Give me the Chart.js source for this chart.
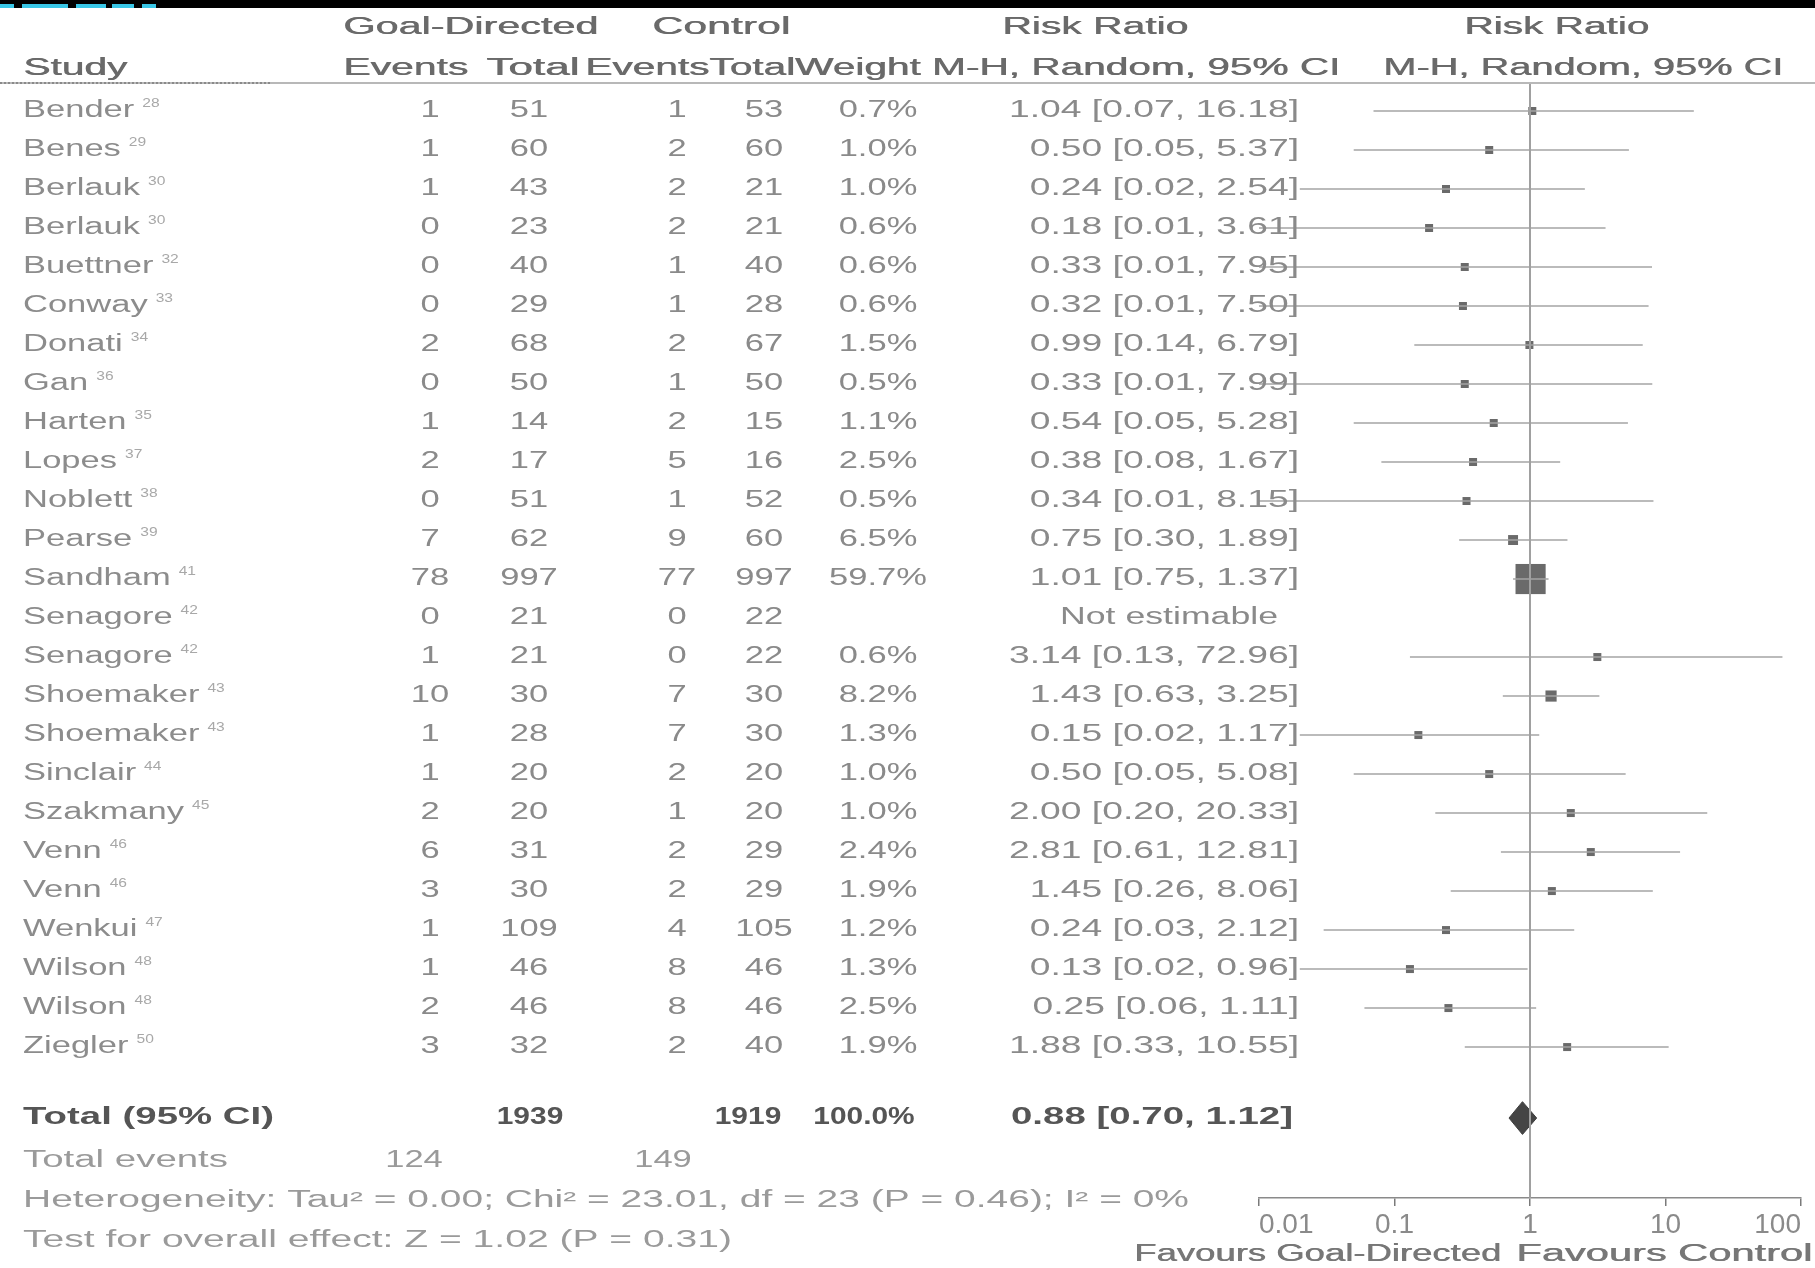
<!DOCTYPE html>
<html>
<head>
<meta charset="utf-8">
<script src="https://cdn.jsdelivr.net/npm/chart.js"></script>
<style>
  html, body { margin: 0; padding: 0; background: #fff; }
  #wrap { width: 1815px; height: 1268px; position: relative; }
</style>
</head>
<body>
<div id="wrap"><canvas id="forest"></canvas></div>
<script>
// study rows
var studies = ["Bender", "Benes", "Berlauk", "Berlauk", "Buettner", "Conway", "Donati", "Gan", "Harten", "Lopes",
  "Noblett", "Pearse", "Sandham", "Senagore", "Senagore", "Shoemaker", "Shoemaker", "Sinclair", "Szakmany",
  "Venn", "Venn", "Wenkui", "Wilson", "Wilson", "Ziegler"];
var refs = ["28", "29", "30", "30", "32", "33", "34", "36", "35", "37", "38", "39", "41", "42", "42", "43", "43",
  "44", "45", "46", "46", "47", "48", "48", "50"];
var gdEvents = [1, 1, 1, 0, 0, 0, 2, 0, 1, 2, 0, 7, 78, 0, 1, 10, 1, 1, 2, 6, 3, 1, 1, 2, 3];
var gdTotal = [51, 60, 43, 23, 40, 29, 68, 50, 14, 17, 51, 62, 997, 21, 21, 30, 28, 20, 20, 31, 30, 109, 46, 46, 32];
var ctEvents = [1, 2, 2, 2, 1, 1, 2, 1, 2, 5, 1, 9, 77, 0, 0, 7, 7, 2, 1, 2, 2, 4, 8, 8, 2];
var ctTotal = [53, 60, 21, 21, 40, 28, 67, 50, 15, 16, 52, 60, 997, 22, 22, 30, 30, 20, 20, 29, 29, 105, 46, 46, 40];
var weights = [0.7, 1.0, 1.0, 0.6, 0.6, 0.6, 1.5, 0.5, 1.1, 2.5, 0.5, 6.5, 59.7, null, 0.6, 8.2, 1.3, 1.0, 1.0,
  2.4, 1.9, 1.2, 1.3, 2.5, 1.9];
var rr = [1.04, 0.50, 0.24, 0.18, 0.33, 0.32, 0.99, 0.33, 0.54, 0.38, 0.34, 0.75, 1.01, null, 3.14, 1.43, 0.15,
  0.50, 2.00, 2.81, 1.45, 0.24, 0.13, 0.25, 1.88];
var ciLow = [0.07, 0.05, 0.02, 0.01, 0.01, 0.01, 0.14, 0.01, 0.05, 0.08, 0.01, 0.30, 0.75, null, 0.13, 0.63, 0.02,
  0.05, 0.20, 0.61, 0.26, 0.03, 0.02, 0.06, 0.33];
var ciHigh = [16.18, 5.37, 2.54, 3.61, 7.95, 7.50, 6.79, 7.99, 5.28, 1.67, 8.15, 1.89, 1.37, null, 72.96, 3.25, 1.17,
  5.08, 20.33, 12.81, 8.06, 2.12, 0.96, 1.11, 10.55];

// pooled result
var totalGD = 1939, totalCT = 1919, eventsGD = 124, eventsCT = 149;
var totalRR = 0.88, totalLow = 0.70, totalHigh = 1.12;

var tickValues = [0.01, 0.1, 1, 10, 100];
var tickLabels = ["0.01", "0.1", "1", "10", "100"];

// row slots (in row units of the y scale)
var yTop = -0.718, yBottom = 27.87;
var totalRow = 25.82, eventsRow = 26.9, hetRow = 27.95, testRow = 28.97, favRow = 29.33;
var head1Row = -2.13, head2Row = -1.08;

var FONT = '"Liberation Sans", Arial, sans-serif';
var SX = 1.5;

function txt(ctx, s, x, y, o) {
  o = o || {};
  var size = o.size || 23;
  ctx.save();
  ctx.font = (o.bold ? 'bold ' : '') + size + 'px ' + FONT;
  ctx.fillStyle = o.color || '#8a8a8a';
  ctx.textBaseline = 'middle';
  ctx.textAlign = 'left';
  var w = ctx.measureText(s).width;
  var sx = o.w ? o.w / w : (o.sx || SX);
  var W = w * sx;
  var left = o.align === 'right' ? x - W : (o.align === 'center' ? x - W / 2 : x);
  ctx.translate(left, y);
  ctx.scale(sx, 1);
  ctx.fillText(s, 0, 0);
  if (o.heavy) ctx.fillText(s, 0.5, 0);
  ctx.restore();
  return left + W;
}

var tablePlugin = {
  id: 'table',
  afterDraw: function(chart) {
    var ctx = chart.ctx;
    var ys = chart.scales.y;
    var area = chart.chartArea;
    var Y = function(r) { return ys.getPixelForValue(r); };

    // top band
    ctx.save();
    ctx.fillStyle = '#000';
    ctx.fillRect(0, 0, 1815, 8);
    ctx.fillStyle = '#39c6e6';
    [[0, 14], [22, 40], [50, 18], [76, 30], [112, 22], [142, 14]].forEach(function(s) {
      ctx.fillRect(s[0], 4, s[1], 4);
    });
    // header rule
    ctx.fillStyle = '#b8b8b8';
    ctx.fillRect(0, area.top - 1, 1815, 2);
    ctx.fillStyle = '#8a8a8a';
    for (var dx = 0; dx < 270; dx += 4) ctx.fillRect(dx, area.top - 1, 2, 2);
    ctx.restore();

    // headers
    var hc = '#6a6a6a';
    var h = { color: hc, heavy: true };
    txt(ctx, 'Goal-Directed', 343, Y(head1Row), Object.assign({ w: 255 }, h));
    txt(ctx, 'Control', 652, Y(head1Row), Object.assign({ w: 138 }, h));
    txt(ctx, 'Risk Ratio', 1002, Y(head1Row), Object.assign({ w: 186 }, h));
    txt(ctx, 'Risk Ratio', 1464, Y(head1Row), Object.assign({ w: 185 }, h));
    txt(ctx, 'Study', 23, Y(head2Row), Object.assign({ w: 104 }, h));
    txt(ctx, 'Events', 343, Y(head2Row), Object.assign({ w: 125 }, h));
    txt(ctx, 'Total', 486, Y(head2Row), Object.assign({ w: 93 }, h));
    txt(ctx, 'EventsTotalWeight M-H, Random, 95% CI', 585, Y(head2Row), Object.assign({ w: 755 }, h));
    txt(ctx, 'M-H, Random, 95% CI', 1383, Y(head2Row), Object.assign({ w: 400 }, h));

    // study rows
    studies.forEach(function(name, i) {
      var y = Y(i);
      var end = txt(ctx, name, 23, y, { color: '#8c8c8c' });
      txt(ctx, refs[i], end + 8, y - 7, { size: 12, color: '#a8a8a8', sx: 1.3 });
      txt(ctx, String(gdEvents[i]), 430, y, { align: 'center' });
      txt(ctx, String(gdTotal[i]), 529, y, { align: 'center' });
      txt(ctx, String(ctEvents[i]), 677, y, { align: 'center' });
      txt(ctx, String(ctTotal[i]), 764, y, { align: 'center' });
      if (weights[i] !== null) {
        txt(ctx, weights[i].toFixed(1) + '%', 878, y, { align: 'center' });
      }
      if (rr[i] !== null) {
        txt(ctx, rr[i].toFixed(2) + ' [' + ciLow[i].toFixed(2) + ', ' + ciHigh[i].toFixed(2) + ']', 1299, y,
          { align: 'right', sx: 1.62 });
      } else {
        txt(ctx, 'Not estimable', 1169, y, { align: 'center', sx: 1.55 });
      }
    });

    // totals
    var tc = '#555';
    txt(ctx, 'Total (95% CI)', 23, Y(totalRow), { bold: true, color: tc, w: 251 });
    txt(ctx, String(totalGD), 530, Y(totalRow), { bold: true, color: tc, align: 'center', sx: 1.3 });
    txt(ctx, String(totalCT), 748, Y(totalRow), { bold: true, color: tc, align: 'center', sx: 1.3 });
    txt(ctx, '100.0%', 864, Y(totalRow), { bold: true, color: tc, align: 'center', sx: 1.3 });
    txt(ctx, totalRR.toFixed(2) + ' [' + totalLow.toFixed(2) + ', ' + totalHigh.toFixed(2) + ']', 1293, Y(totalRow),
      { bold: true, color: tc, align: 'right', w: 282 });

    var lc = '#9a9a9a';
    txt(ctx, 'Total events', 23, Y(eventsRow), { color: lc, w: 205 });
    txt(ctx, String(eventsGD), 414, Y(eventsRow), { color: lc, align: 'center' });
    txt(ctx, String(eventsCT), 663, Y(eventsRow), { color: lc, align: 'center' });
    txt(ctx, 'Heterogeneity: Tau\u00b2 = 0.00; Chi\u00b2 = 23.01, df = 23 (P = 0.46); I\u00b2 = 0%', 23, Y(hetRow),
      { color: lc, w: 1166 });
    txt(ctx, 'Test for overall effect: Z = 1.02 (P = 0.31)', 23, Y(testRow), { color: lc, w: 709 });

    txt(ctx, 'Favours Goal-Directed', 1134, Y(favRow), { color: '#777', heavy: true, w: 367 });
    txt(ctx, 'Favours Control', 1516, Y(favRow), { color: '#777', heavy: true, w: 296 });
  }
};

var datasets = [];

// line of no effect
datasets.push({
  data: [{ x: 1, y: yTop }, { x: 1, y: yBottom }],
  borderColor: '#a0a0a0',
  borderWidth: 2,
  pointRadius: 0
});

// confidence intervals
studies.forEach(function(name, i) {
  if (rr[i] === null) return;
  datasets.push({
    data: [{ x: ciLow[i], y: i }, { x: ciHigh[i], y: i }],
    borderColor: '#a4a4a4',
    borderWidth: 1.5,
    pointRadius: 0
  });
});

// weighted squares
var squarePts = [], squareRad = [];
studies.forEach(function(name, i) {
  if (rr[i] === null) return;
  squarePts.push({ x: rr[i], y: i });
  var side = Math.max(8, 3.9 * Math.sqrt(weights[i]));
  squareRad.push(side / Math.SQRT2);
});
datasets.push({
  data: squarePts,
  showLine: false,
  pointStyle: 'rect',
  pointRadius: squareRad,
  pointBackgroundColor: '#6a6a6a',
  pointBorderWidth: 0
});

// pooled diamond
var dh = 0.42;
datasets.push({
  data: [
    { x: totalLow, y: totalRow },
    { x: totalRR, y: totalRow - dh },
    { x: totalHigh, y: totalRow },
    { x: totalRR, y: totalRow + dh },
    { x: totalLow, y: totalRow }
  ],
  borderColor: '#3f3f3f',
  backgroundColor: '#454545',
  borderWidth: 1,
  pointRadius: 0,
  fill: 'shape'
});

var chart = new Chart(document.getElementById('forest').getContext('2d'), {
  type: 'line',
  data: { datasets: datasets },
  options: {
    responsive: true,
    maintainAspectRatio: false,
    animation: false,
    events: [],
    layout: { padding: { left: 1259, right: 14, top: 83, bottom: 0 } },
    plugins: { legend: { display: false }, tooltip: { enabled: false } },
    scales: {
      x: {
        type: 'logarithmic',
        min: 0.01,
        max: 100,
        afterBuildTicks: function(s) {
          s.ticks = tickValues.map(function(v) { return { value: v }; });
        },
        afterFit: function(s) {
          s.height = 70;
          s.paddingLeft = 0;
          s.paddingRight = 0;
        },
        grid: { drawOnChartArea: false, drawTicks: true, tickLength: 8, color: '#7a7a7a', lineWidth: 1.5 },
        border: { display: true, color: '#8a8a8a', width: 1.5 },
        ticks: {
          autoSkip: false,
          maxRotation: 0,
          align: 'inner',
          padding: 2,
          color: '#8a8a8a',
          font: { family: FONT, size: 28 },
          callback: function(v, idx) { return tickLabels[idx]; }
        }
      },
      y: {
        type: 'linear',
        display: false,
        reverse: true,
        min: yTop,
        max: yBottom
      }
    }
  },
  plugins: [tablePlugin]
});
</script>
</body>
</html>
